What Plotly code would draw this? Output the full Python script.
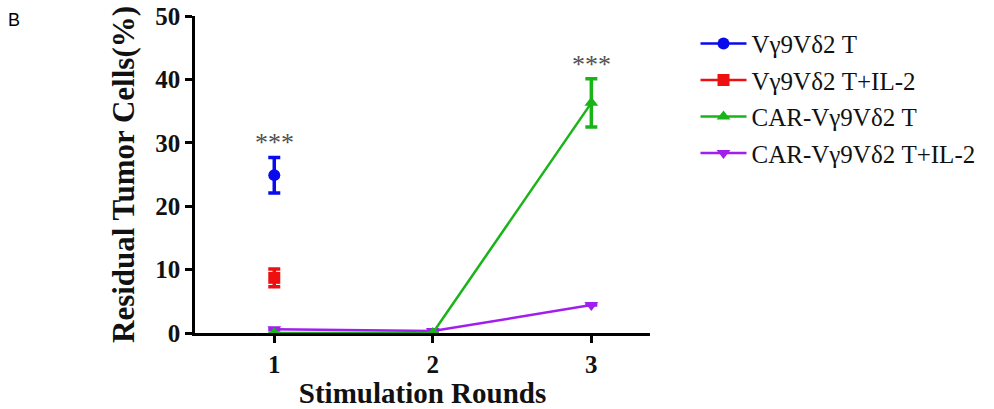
import plotly.graph_objects as go

rounds = [1, 2, 3]
names = ["Vγ9Vδ2 T", "Vγ9Vδ2 T+IL-2", "CAR-Vγ9Vδ2 T", "CAR-Vγ9Vδ2 T+IL-2"]
vg_t = [24.9, None, None]
vg_t_err = [2.8, 0, 0]
vg_t_il2 = [8.7, None, None]
vg_t_il2_err = [1.4, 0, 0]
car_t = [0.0, 0.0, 36.3]
car_t_err = [0, 0, 3.8]
car_t_il2 = [0.6, 0.3, 4.4]
car_t_il2_err = [0, 0, 0]
star_x = [1, 3]
star_y = [30.1, 42.4]

colors = ["#0A0AEE", "#EE1010", "#18B418", "#A01EEE"]
symbols = ["circle", "square", "triangle-up", "triangle-down"]
series = [(vg_t, vg_t_err), (vg_t_il2, vg_t_il2_err), (car_t, car_t_err), (car_t_il2, car_t_il2_err)]
draw_order = [0, 1, 3, 2]

fig = go.Figure()
for i in draw_order:
    vals, errs = series[i]
    fig.add_trace(go.Scatter(
        x=rounds, y=vals, name=names[i], mode="lines+markers",
        legendrank=i + 1, legendgroup=f"g{i}",
        line=dict(color=colors[i], width=2.5),
        marker=dict(symbol=symbols[i], size=12, color=colors[i]),
        error_y=dict(type="data", array=errs, color=colors[i], thickness=3.5, width=6, visible=True),
        connectgaps=False,
    ))

for sx, sy in zip(star_x, star_y):
    fig.add_annotation(x=sx, y=sy, text="***", showarrow=False,
                       font=dict(family="Liberation Serif", size=26, color="#505050"))

fig.add_annotation(xref="paper", yref="paper", x=-0.398, y=0.987, text="B", showarrow=False,
                   xanchor="center", yanchor="middle",
                   font=dict(family="Liberation Sans", size=18, color="black"))

axis_font = dict(family="Liberation Serif", size=25, color="#111111")
fig.update_layout(
    width=994, height=409,
    margin=dict(l=195, r=344, t=16, b=76),
    plot_bgcolor="white", paper_bgcolor="white",
    xaxis=dict(range=[0.5, 3.37], tickvals=rounds, ticktext=["<b>1</b>", "<b>2</b>", "<b>3</b>"],
               showline=True, linecolor="black", linewidth=2.5, ticks="outside", ticklen=7,
               tickwidth=2.5, tickcolor="black", showgrid=False, zeroline=False,
               tickfont=axis_font, automargin=False,
               title=dict(text="<b>Stimulation Rounds</b>", font=dict(family="Liberation Serif", size=29, color="#111111"), standoff=8)),
    yaxis=dict(range=[0, 50], tickvals=[0, 10, 20, 30, 40, 50],
               ticktext=["<b>0</b>", "<b>10</b>", "<b>20</b>", "<b>30</b>", "<b>40</b>", "<b>50</b>"],
               showline=True, linecolor="black", linewidth=2.5, ticks="outside", ticklen=7,
               tickwidth=2.5, tickcolor="black", showgrid=False, zeroline=False,
               tickfont=axis_font, automargin=False, ticklabeloverflow="allow",
               title=dict(text="<b>Residual Tumor Cells(%)</b>", font=dict(family="Liberation Serif", size=31, color="#111111"), standoff=12)),
    legend=dict(x=1.1, y=0.985, xanchor="left", yanchor="top", traceorder="grouped",
                font=dict(family="Liberation Serif", size=25, color="#111111"),
                tracegroupgap=1, itemwidth=46),
    showlegend=True,
)

fig.write_html("out.html", config={"displayModeBar": False},
               post_script="document.body.style.margin='0';document.body.style.overflow='hidden';")
